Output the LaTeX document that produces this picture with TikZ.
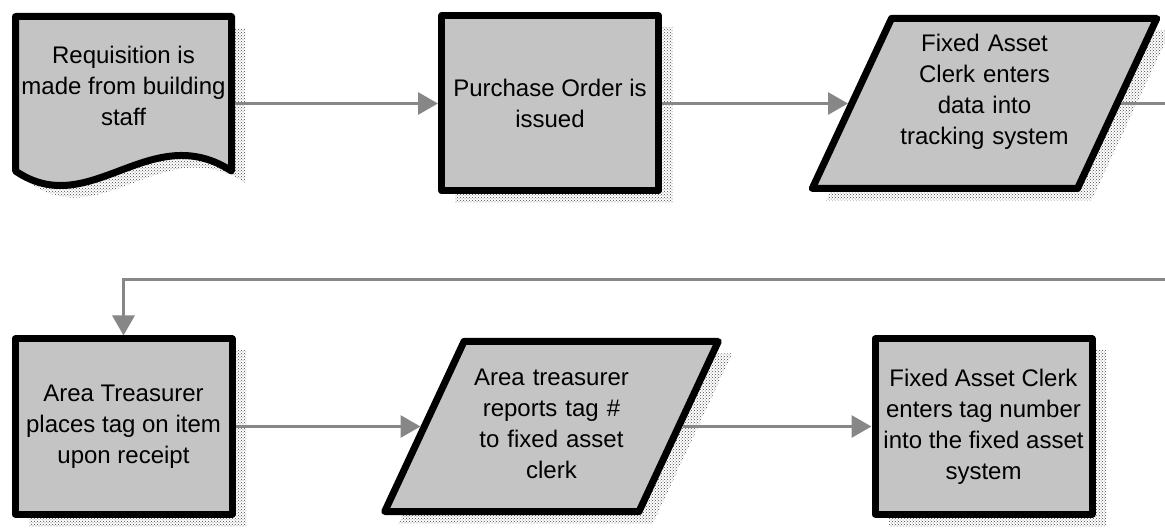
\documentclass[tikz,border=0pt]{standalone}
\usepackage{fontspec}
\setmainfont{Liberation Sans}
\usepackage{tikz}
\usetikzlibrary{shapes.geometric, arrows.meta, positioning, shadows, patterns}
\definecolor{boxgray}{RGB}{196,196,196}
\definecolor{linegray}{RGB}{135,135,135}
\definecolor{dotgray}{RGB}{70,70,70}
\newcommand{\flowtext}{\fontsize{24pt}{31pt}\selectfont}

\begin{document}
\begin{tikzpicture}[x=1pt, y=-1pt,
    shadowed/.style={drop shadow={shadow xshift=14pt, shadow yshift=-12pt, opacity=1, pattern=crosshatch dots, pattern color=dotgray}},
    box/.style={draw, line width=7pt, line join=round, fill=boxgray, minimum width=217pt, minimum height=175pt, inner sep=0pt, align=center, font=\flowtext, shadowed},
    slant/.style={trapezium, trapezium left angle=65, trapezium right angle=115, draw, line width=7pt, line join=round, fill=boxgray, inner sep=0pt, align=center, font=\flowtext, shadowed},
    doc/.style={minimum width=216pt, minimum height=173pt, inner sep=0pt, outer sep=3.5pt, align=center, font=\flowtext},
    docline/.style={draw, line width=7pt, line join=round, fill=boxgray, shadowed},
    arrow/.style={-{Triangle[length=20pt, width=22pt]}, draw=linegray, line width=3pt}
]
\path[use as bounding box, clip] (0,0) rectangle (1165,529);

% Requisition (document shape)
\draw[docline] (15.5,16.5) -- (231.5,16.5) -- (231.5,171) .. controls (150,118) and (90,222) .. (15.5,171) -- cycle;
\node[doc, text depth=36pt] (req) at (123.5,103.5) {Requisition is\\made from building\\staff};

% First row
\node[box, right=203pt of req] (order) {Purchase Order is\\issued};
\node[slant, text width=186pt, text height=33pt, text depth=137pt, right=186pt of order] (enter) {Fixed Asset\\Clerk enters\\data into\\tracking system};

% Second row
\node[box, below=142pt of req] (treas) {Area Treasurer\\places tag on item\\upon receipt};
\node[slant, text width=175pt, text height=44pt, text depth=126pt, right=185pt of treas] (report) {Area treasurer\\reports tag \#\\to fixed asset\\clerk};
\node[box, right=189pt of report] (record) {Fixed Asset Clerk\\enters tag number\\into the fixed asset\\system};

% Arrows
\coordinate (turn) at (1190,280);
\draw[arrow] (req.east) -- (order.west);
\draw[arrow] (order.east) -- (enter.west);
\draw[arrow] (enter.east) -| (turn) -| (treas.north);
\draw[arrow] (treas.east) -- (report.west);
\draw[arrow] (report.east) -- (record.west);

\end{tikzpicture}
\end{document}
